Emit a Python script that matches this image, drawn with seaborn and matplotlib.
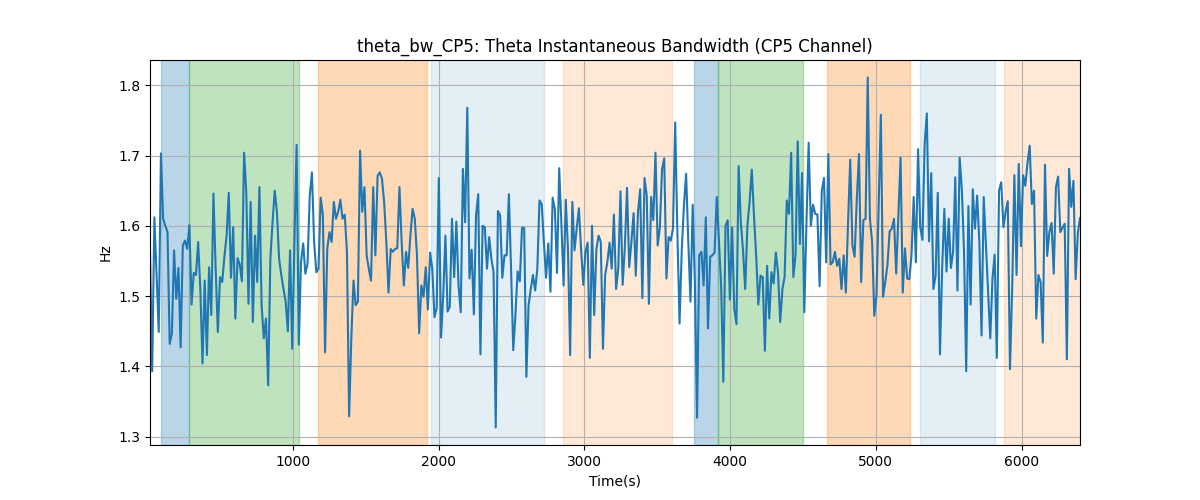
import numpy as np
import pandas as pd
import matplotlib
matplotlib.use("Agg")
import matplotlib.pyplot as plt
import seaborn as sns

values = [
    # segment 1
    1.565, 1.393, 1.612, 1.530, 1.449, 1.703, 1.610, 1.600, 1.591, 1.432, 1.447, 1.565, 1.496, 1.540, 1.427, 1.572,
    1.579, 1.567, 1.601, 1.488, 1.533, 1.530, 1.577, 1.510, 1.404, 1.522, 1.416, 1.541, 1.473, 1.646, 1.539, 1.449,
    1.527, 1.520, 1.556, 1.586, 1.647, 1.526, 1.598, 1.468, 1.554, 1.545, 1.521, 1.704, 1.648, 1.489, 1.634, 1.463,
    1.586, 1.520, 1.655, 1.487,
    # segment 2
    1.440, 1.468, 1.373, 1.553, 1.605, 1.650, 1.620, 1.553, 1.530, 1.510, 1.492, 1.450, 1.565, 1.425, 1.577, 1.715,
    1.431, 1.548, 1.575, 1.532, 1.546, 1.643, 1.676, 1.577, 1.534, 1.539, 1.640, 1.615, 1.420, 1.567, 1.591, 1.577,
    1.634, 1.610, 1.620, 1.637, 1.610, 1.616, 1.563, 1.329, 1.440, 1.522, 1.487, 1.492, 1.707, 1.620, 1.655, 1.558,
    1.539, 1.522, 1.655,
    # segment 3
    1.558, 1.671, 1.676, 1.667, 1.634, 1.577, 1.505, 1.567, 1.563, 1.567, 1.568, 1.655, 1.577, 1.515, 1.563, 1.540,
    1.586, 1.624, 1.610, 1.558, 1.447, 1.515, 1.499, 1.541, 1.481, 1.562, 1.539, 1.470, 1.483, 1.668, 1.441, 1.501,
    1.586, 1.478, 1.485, 1.610, 1.527, 1.606, 1.515, 1.477, 1.681, 1.605, 1.768, 1.525, 1.566, 1.474, 1.615, 1.645,
    1.417, 1.600, 1.598, 1.539,
    # segment 4
    1.584, 1.553, 1.534, 1.313, 1.621, 1.615, 1.526, 1.558, 1.558, 1.645, 1.539, 1.423, 1.473, 1.535, 1.521, 1.597,
    1.597, 1.385, 1.487, 1.510, 1.530, 1.508, 1.539, 1.636, 1.631, 1.577, 1.526, 1.575, 1.506, 1.640, 1.624, 1.533,
    1.682, 1.603, 1.515, 1.637, 1.567, 1.416, 1.634, 1.565, 1.596, 1.625, 1.567, 1.516, 1.563, 1.576, 1.412, 1.600,
    1.473, 1.567, 1.586, 1.577, 1.425,
    # segment 5
    1.530, 1.548, 1.576, 1.539, 1.616, 1.510, 1.539, 1.649, 1.516, 1.570, 1.654, 1.541, 1.577, 1.618, 1.529, 1.620,
    1.652, 1.497, 1.668, 1.643, 1.489, 1.641, 1.608, 1.704, 1.572, 1.597, 1.681, 1.696, 1.525, 1.584, 1.579, 1.596,
    1.747, 1.591, 1.461, 1.565, 1.629, 1.674, 1.577, 1.492, 1.630, 1.520, 1.327, 1.558, 1.563, 1.515, 1.612, 1.454,
    1.556, 1.558, 1.562, 1.641, 1.577,
    # segment 6
    1.515, 1.378, 1.600, 1.608, 1.495, 1.598, 1.482, 1.460, 1.685, 1.605, 1.565, 1.510, 1.600, 1.634, 1.680, 1.615,
    1.558, 1.488, 1.529, 1.527, 1.422, 1.543, 1.468, 1.534, 1.518, 1.562, 1.534, 1.463, 1.510, 1.527, 1.636, 1.617,
    1.704, 1.527, 1.558, 1.720, 1.574, 1.675, 1.477, 1.605, 1.718, 1.600, 1.630, 1.617, 1.616, 1.514, 1.650, 1.668,
    1.548, 1.702, 1.545, 1.548,
    # segment 7
    1.563, 1.543, 1.553, 1.510, 1.558, 1.505, 1.605, 1.694, 1.572, 1.556, 1.638, 1.702, 1.520, 1.608, 1.610, 1.811,
    1.610, 1.577, 1.472, 1.501, 1.629, 1.758, 1.499, 1.520, 1.544, 1.592, 1.596, 1.610, 1.532, 1.615, 1.697, 1.505,
    1.568, 1.525, 1.524, 1.558, 1.641, 1.548, 1.709, 1.598, 1.580, 1.716, 1.760, 1.578, 1.675, 1.510, 1.529, 1.647,
    1.417, 1.539, 1.624, 1.535, 1.610,
    # segment 8
    1.540, 1.563, 1.669, 1.508, 1.697, 1.652, 1.563, 1.393, 1.628, 1.488, 1.652, 1.596, 1.643, 1.577, 1.444, 1.641,
    1.572, 1.506, 1.440, 1.525, 1.559, 1.412, 1.650, 1.662, 1.598, 1.620, 1.635, 1.396, 1.510, 1.672, 1.530, 1.688,
    1.571, 1.672, 1.657, 1.689, 1.714, 1.631, 1.650, 1.468, 1.530, 1.520, 1.434, 1.687, 1.557, 1.591, 1.604, 1.532,
    1.655, 1.670, 1.591, 1.597, 1.603, 1.410, 1.681, 1.627, 1.664, 1.524, 1.589, 1.611,
]

t_start = 20
t_end = 6400
times = np.linspace(t_start, t_end, len(values))

# shaded intervals: (start, end, color, alpha)
span_starts = [96, 288, 1171, 1945, 2856, 3753, 3918, 4664, 5301, 5877]
span_ends = [288, 1041, 1918, 2726, 3603, 3918, 4500, 5233, 5815, 6400]
span_colors = ["tab:blue", "tab:green", "tab:orange", "tab:blue", "tab:orange",
               "tab:blue", "tab:green", "tab:orange", "tab:blue", "tab:orange"]
span_alphas = [0.3, 0.3, 0.3, 0.12, 0.17, 0.3, 0.3, 0.3, 0.12, 0.17]

df = pd.DataFrame({"Time(s)": times, "Hz": values})

fig, ax = plt.subplots(figsize=(12, 5), dpi=100)
for s, e, c, a in zip(span_starts, span_ends, span_colors, span_alphas):
    ax.axvspan(s, e, color=c, alpha=a)

sns.lineplot(data=df, x="Time(s)", y="Hz", ax=ax, color="tab:blue", linewidth=1.5)
ax.set_xlim(t_start, t_end)
ax.grid(True)
ax.set_title("theta_bw_CP5: Theta Instantaneous Bandwidth (CP5 Channel)")
ax.set_xlabel("Time(s)")
ax.set_ylabel("Hz")

fig.savefig("out.png", dpi=100)
